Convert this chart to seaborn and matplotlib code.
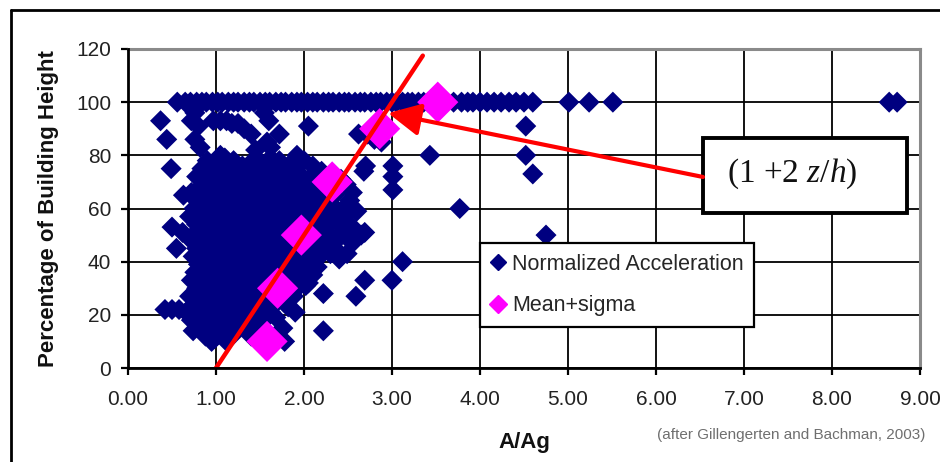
import matplotlib
matplotlib.use("Agg")
import matplotlib.pyplot as plt
import seaborn as sns
import pandas as pd
from matplotlib.lines import Line2D
from matplotlib.patches import Rectangle

# ---------------- data ----------------
x_ticks = [0, 1, 2, 3, 4, 5, 6, 7, 8, 9]
x_tick_labels = ["0.00", "1.00", "2.00", "3.00", "4.00", "5.00", "6.00", "7.00", "8.00", "9.00"]
y_ticks = [0, 20, 40, 60, 80, 100, 120]

# points lying on the 100 % line
band_x = [0.56, 0.65, 0.71, 0.78, 0.84, 0.89, 0.96, 1.02, 1.07, 1.14,
          1.20, 1.25, 1.32, 1.38, 1.43, 1.50, 1.56, 1.61, 1.68, 1.74,
          1.79, 1.86, 1.92, 1.97, 2.04, 2.10, 2.15, 2.22, 2.28, 2.33,
          2.40, 2.46, 2.51, 2.58, 2.64, 2.69, 2.76, 2.82, 2.87, 2.94,
          3.00, 3.05, 3.12, 3.18, 3.23, 3.30, 3.36, 3.41, 3.62, 3.70,
          3.79, 3.86, 3.92, 4.00, 4.08, 4.16, 4.24, 4.33, 4.41, 4.50,
          4.60, 5.01, 5.24, 5.51, 8.65, 8.74]
band_y = [100, 100, 100, 100, 100, 100, 100, 100, 100, 100,
          100, 100, 100, 100, 100, 100, 100, 100, 100, 100,
          100, 100, 100, 100, 100, 100, 100, 100, 100, 100,
          100, 100, 100, 100, 100, 100, 100, 100, 100, 100,
          100, 100, 100, 100, 100, 100, 100, 100, 100, 100,
          100, 100, 100, 100, 100, 100, 100, 100, 100, 100,
          100, 100, 100, 100, 100, 100]

# scattered outlying points
scatter_x = [0.37, 0.44, 0.49, 0.63, 0.50, 0.76, 0.72, 0.80, 0.76, 0.82,
             0.97, 1.05, 1.12, 1.18, 1.25, 1.32, 1.40, 1.55, 1.60, 1.72,
             1.58, 1.62, 2.05, 2.62, 2.72, 2.80, 2.90, 2.88, 3.43, 4.52,
             4.52, 4.60, 4.75, 3.77, 2.70, 2.68, 3.01, 3.01, 3.01, 2.60,
             2.69, 3.12, 3.00, 2.69, 2.59, 2.22, 2.22, 1.90, 1.78, 1.76,
             2.49, 1.92, 1.05, 1.45, 0.42, 0.50, 0.58, 0.74, 2.45, 2.55]
scatter_y = [93, 86, 75, 65, 53, 96, 93, 91, 86, 83,
             93, 93, 93, 92, 92, 90, 88, 96, 93, 88,
             85, 83, 91, 88, 88, 86, 88, 85, 80, 91,
             80, 73, 50, 60, 76, 74, 76, 72, 67, 59,
             51, 40, 33, 33, 27, 28, 14, 21, 10, 15,
             43, 80, 80, 82, 22, 22, 22, 14, 60, 66]

# dense cloud of normalized accelerations
cloud_x = [0.90, 1.00, 1.10, 1.20, 1.30, 1.42, 1.52, 1.62, 1.72, 1.82, 2.00,
           0.84, 0.95, 1.05, 1.15, 1.25, 1.35, 1.45, 1.55, 1.65, 1.78, 1.88, 2.10, 2.20,
           0.78, 0.88, 0.98, 1.08, 1.18, 1.28, 1.38, 1.48, 1.58, 1.70, 1.85, 1.95, 2.05, 2.25, 2.42,
           0.85, 0.95, 1.05, 1.15, 1.25, 1.35, 1.45, 1.55, 1.75, 1.90, 2.00, 2.10, 2.20, 2.32, 2.48,
           0.72, 0.82, 0.92, 1.02, 1.12, 1.22, 1.32, 1.42, 1.52, 1.62, 1.72, 1.82, 1.95, 2.05, 2.15, 2.35,
           0.78, 0.88, 0.98, 1.08, 1.18, 1.28, 1.38, 1.48, 1.58, 1.68, 1.78, 1.88, 2.00, 2.10, 2.20, 2.30, 2.52,
           0.75, 0.85, 0.95, 1.05, 1.15, 1.25, 1.35, 1.45, 1.55, 1.65, 1.75, 1.85, 1.95, 2.05, 2.15, 2.25, 2.38,
           0.70, 0.80, 0.90, 1.00, 1.10, 1.20, 1.30, 1.40, 1.50, 1.60, 1.70, 1.80, 1.90, 2.00, 2.12, 2.22, 2.32, 2.45,
           0.78, 0.88, 0.98, 1.08, 1.18, 1.28, 1.38, 1.48, 1.58, 1.68, 1.78, 1.88, 2.05, 2.18, 2.28, 2.38, 2.55,
           0.62, 0.74, 0.84, 0.94, 1.04, 1.14, 1.24, 1.34, 1.44, 1.54, 1.64, 1.74, 1.84, 1.95, 2.10, 2.20, 2.30, 2.45, 2.65,
           0.72, 0.82, 0.92, 1.02, 1.12, 1.22, 1.32, 1.42, 1.52, 1.62, 1.72, 1.85, 2.00, 2.15, 2.25, 2.40, 2.55,
           0.55, 0.78, 0.88, 0.98, 1.08, 1.18, 1.28, 1.38, 1.48, 1.58, 1.68, 1.78, 1.90, 2.05, 2.20, 2.35,
           0.74, 0.84, 0.94, 1.04, 1.14, 1.24, 1.34, 1.44, 1.54, 1.64, 1.74, 1.84, 1.95, 2.08, 2.18, 2.30, 2.40,
           0.80, 0.90, 1.00, 1.10, 1.20, 1.30, 1.40, 1.50, 1.60, 1.70, 1.82, 1.92, 2.02, 2.15,
           0.76, 0.86, 0.96, 1.06, 1.16, 1.26, 1.36, 1.46, 1.56, 1.66, 1.78, 1.90, 2.00, 2.10,
           0.72, 0.82, 0.92, 1.02, 1.12, 1.22, 1.32, 1.42, 1.52, 1.62, 1.72, 1.85, 1.95, 2.05,
           0.78, 0.88, 0.98, 1.08, 1.18, 1.28, 1.38, 1.48, 1.58, 1.68, 1.80, 1.92, 2.02,
           0.70, 0.80, 0.90, 1.00, 1.10, 1.20, 1.30, 1.40, 1.50, 1.62, 1.75, 1.88,
           0.75, 0.85, 0.95, 1.05, 1.15, 1.25, 1.35, 1.45, 1.55, 1.70, 1.82,
           0.66, 0.72, 0.80, 0.90, 1.00, 1.10, 1.20, 1.30, 1.40, 1.50, 1.62,
           0.72, 0.82, 0.92, 1.02, 1.12, 1.22, 1.32, 1.42, 1.55, 1.68,
           0.84, 0.94, 1.04, 1.14, 1.24, 1.36, 1.48,
           0.88, 0.98, 1.08, 1.18, 1.40, 1.50,
           0.95, 1.12]
cloud_y = [78, 77, 79, 78, 76, 78, 77, 79, 78, 76, 78,
           75, 74, 75, 76, 74, 75, 76, 74, 75, 74, 75, 76, 74,
           72, 71, 72, 73, 71, 72, 73, 71, 72, 71, 72, 73, 71, 72, 71,
           69, 68, 69, 70, 68, 69, 70, 68, 69, 68, 69, 70, 68, 69, 69,
           66, 65, 66, 67, 65, 66, 67, 65, 66, 67, 65, 66, 67, 65, 66, 65,
           63, 62, 63, 64, 62, 63, 64, 62, 63, 64, 62, 63, 64, 62, 63, 62, 63,
           60, 59, 60, 61, 59, 60, 61, 59, 60, 61, 59, 60, 61, 59, 60, 61, 59,
           57, 56, 57, 58, 56, 57, 58, 56, 57, 58, 56, 57, 58, 56, 57, 58, 56, 57,
           54, 53, 54, 55, 53, 54, 55, 53, 54, 55, 53, 54, 55, 53, 54, 55, 53,
           51, 50, 51, 52, 50, 51, 52, 50, 51, 52, 50, 51, 52, 50, 51, 52, 50, 51, 50,
           48, 47, 48, 49, 47, 48, 49, 47, 48, 49, 47, 48, 49, 47, 48, 49, 47,
           45, 45, 44, 45, 46, 44, 45, 46, 44, 45, 46, 44, 45, 46, 44, 45,
           42, 41, 42, 43, 41, 42, 43, 41, 42, 43, 41, 42, 43, 41, 42, 43, 41,
           39, 38, 39, 40, 38, 39, 40, 38, 39, 40, 38, 39, 40, 38,
           36, 35, 36, 37, 35, 36, 37, 35, 36, 37, 35, 36, 37, 35,
           33, 32, 33, 34, 32, 33, 34, 32, 33, 34, 32, 33, 34, 32,
           30, 29, 30, 31, 29, 30, 31, 29, 30, 31, 29, 30, 31,
           27, 26, 27, 28, 26, 27, 28, 26, 27, 28, 26, 27,
           24, 23, 24, 25, 23, 24, 25, 23, 24, 25, 23,
           21, 22, 21, 20, 21, 22, 20, 21, 22, 20, 21,
           18, 17, 18, 19, 17, 18, 19, 17, 18, 19,
           15, 14, 15, 16, 14, 15, 14,
           12, 11, 12, 13, 12, 13,
           10, 10]

# mean + sigma
mean_sigma_x = [1.58, 1.70, 1.97, 2.32, 2.86, 3.52]
mean_sigma_y = [10, 30, 50, 70, 90, 100]

# (1 + 2 z/h) line
line_x = [1.0, 3.35]
line_y = [0, 117.5]

# ---------------- style ----------------
NAVY = "#000080"
MAGENTA = "#FF00FF"
RED = "#FF0000"

sns.set_theme(style="white")
plt.rcParams['font.family'] = ['Liberation Sans', 'DejaVu Sans']
plt.rcParams['mathtext.fontset'] = 'custom'
plt.rcParams['mathtext.rm'] = 'Liberation Serif'
plt.rcParams['mathtext.it'] = 'Liberation Serif:italic'

fig = plt.figure(figsize=(9.40, 4.62), dpi=100, facecolor="white")
ax = fig.add_axes([128 / 940, 1 - 368 / 462, 792 / 940, 319 / 462])
ax.set_facecolor("white")

acc = pd.DataFrame({"A/Ag": band_x + scatter_x + cloud_x,
                    "pct": band_y + scatter_y + cloud_y})
ms = pd.DataFrame({"A/Ag": mean_sigma_x, "pct": mean_sigma_y})
ln = pd.DataFrame({"A/Ag": line_x, "pct": line_y})

sns.scatterplot(data=acc, x="A/Ag", y="pct", marker="D", s=115, color=NAVY,
                edgecolor="none", linewidth=0, ax=ax, zorder=3, legend=False)
sns.scatterplot(data=ms, x="A/Ag", y="pct", marker="D", s=440, color=MAGENTA,
                edgecolor="none", linewidth=0, ax=ax, zorder=4, legend=False)
sns.lineplot(data=ln, x="A/Ag", y="pct", color=RED, lw=3.2, ax=ax, zorder=5,
             legend=False)

ax.set_xlim(0, 9)
ax.set_ylim(0, 120)
ax.set_xticks(x_ticks)
ax.set_xticklabels(x_tick_labels)
ax.set_yticks(y_ticks)

ax.grid(True, color="black", lw=1.3, zorder=1)
ax.set_axisbelow(True)
for side in ["top", "right"]:
    ax.spines[side].set_color("#8a8a8a")
    ax.spines[side].set_linewidth(2.2)
for side in ["left", "bottom"]:
    ax.spines[side].set_color("black")
    ax.spines[side].set_linewidth(2.0)
    ax.spines[side].set_zorder(6)

ax.tick_params(axis="both", which="major", direction="out", length=5, width=1.6,
               color="black", labelsize=15, labelcolor="#222222")
ax.tick_params(axis="x", pad=11)
ax.tick_params(axis="y", pad=7)
ax.tick_params(left=True, bottom=True)

ax.set_xlabel("A/Ag", fontsize=16, fontweight="bold", color="#111111")
ax.set_ylabel("Percentage of Building Height", fontsize=16, fontweight="bold",
              color="#111111")
ax.xaxis.set_label_coords(0.5, -0.235)
ax.xaxis.label.set_verticalalignment("center")
ax.yaxis.set_label_coords(-0.101, 0.5)
ax.yaxis.label.set_verticalalignment("center")

# legend
handles = [Line2D([], [], marker="D", ls="", color=NAVY, markersize=8.5),
           Line2D([], [], marker="D", ls="", color=MAGENTA, markersize=9)]
leg = ax.legend(handles, ["Normalized Acceleration", "Mean+sigma"],
                loc="upper left", bbox_to_anchor=(0.444, 0.392),
                fontsize=15.5, frameon=True, fancybox=False, framealpha=1,
                edgecolor="black", handlelength=0.7, handletextpad=0.3,
                borderpad=0.5, labelspacing=0.95, borderaxespad=0)
leg.get_frame().set_linewidth(1.6)
leg.set_zorder(7)

# annotation box with arrow
box_x0, box_x1 = (703 - 128) / 88, (907 - 128) / 88
box_y0, box_y1 = (368 - 213) / 2.658, (368 - 138) / 2.658
ax.add_patch(Rectangle((box_x0, box_y0), box_x1 - box_x0, box_y1 - box_y0,
                       facecolor="white", edgecolor="black", lw=2.8,
                       zorder=8, clip_on=False))
ax.text((727 - 128) / 88, (368 - 174) / 2.658, r"(1 +2 $\mathit{z/h}$)",
        fontsize=24, family="Liberation Serif", color="#111111",
        ha="left", va="center", zorder=9)
ax.annotate("", xy=(2.955, 95.9), xytext=(box_x0, (368 - 177) / 2.658),
            arrowprops=dict(arrowstyle="-|>,head_length=0.9,head_width=0.45",
                            color=RED, lw=3, mutation_scale=22,
                            shrinkA=0, shrinkB=0),
            zorder=8)

# source note
fig.text(925 / 940, 1 - 435 / 462, "(after Gillengerten and Bachman, 2003)",
         fontsize=11, color="#6f6f6f", ha="right", va="center")

# outer frame of the picture
fig.add_artist(Line2D([11 / 940, 1.0], [1 - 10 / 462, 1 - 10 / 462],
                      color="black", lw=2, transform=fig.transFigure))
fig.add_artist(Line2D([11 / 940, 11 / 940], [0, 1 - 10 / 462],
                      color="black", lw=2, transform=fig.transFigure))

fig.savefig("out.png", dpi=100, facecolor="white")
